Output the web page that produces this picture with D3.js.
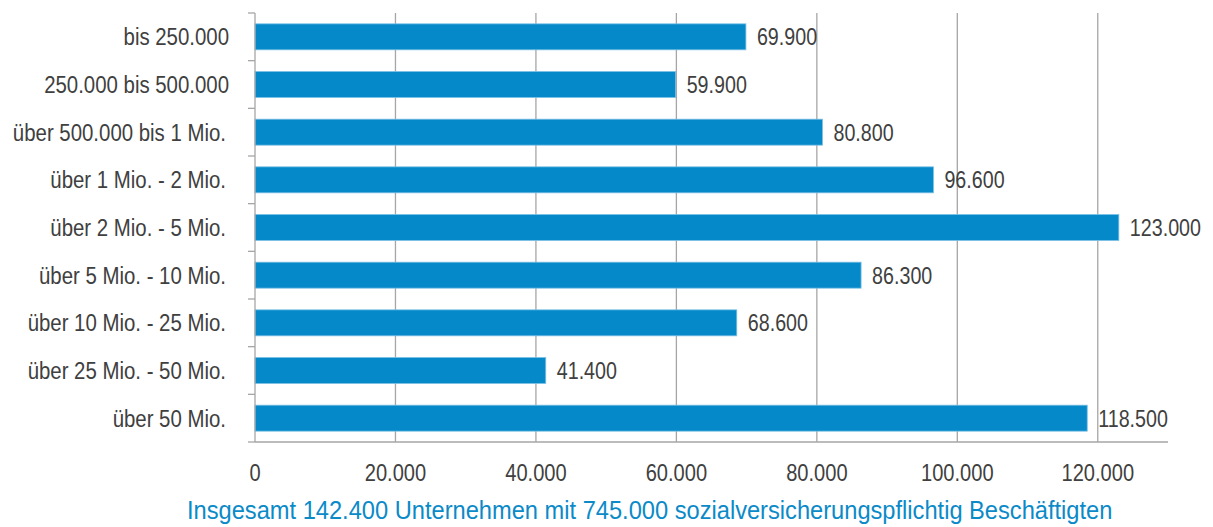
<!DOCTYPE html>
<html lang="de">
<head>
<meta charset="utf-8">
<title>Unternehmen nach Umsatzgrößenklassen</title>
<script src="https://d3js.org/d3.v7.min.js"></script>
<style>
  body { margin: 0; background: #fff; }
  text { font-family: "Liberation Sans", Arial, sans-serif; }
</style>
</head>
<body>
<script>
// data
var categories = ["bis 250.000", "250.000 bis 500.000", "über 500.000 bis 1 Mio.",
                  "über 1 Mio. - 2 Mio.", "über 2 Mio. - 5 Mio.", "über 5 Mio. - 10 Mio.",
                  "über 10 Mio. - 25 Mio.", "über 25 Mio. - 50 Mio.", "über 50 Mio."];
var values = [69900, 59900, 80800, 96600, 123000, 86300, 68600, 41400, 118500];
var xTicks = [0, 20000, 40000, 60000, 80000, 100000, 120000];
var caption = "Insgesamt 142.400 Unternehmen mit 745.000 sozialversicherungspflichtig Beschäftigten";

var W = 1213, H = 527;
var blue = "#0689c9", textCol = "#404040", gridCol = "#a6a6a6";

var svg = d3.select("body").append("svg")
    .attr("width", W)
    .attr("height", H);

var x = d3.scaleLinear().domain([0, 130000]).range([255, 1168]);
var y = d3.scaleBand().domain(categories).range([13, 442])
    .paddingInner(0.455).paddingOuter(0.2275);

// german number format 123.000
var de = d3.formatLocale({decimal: ",", thousands: ".", grouping: [3], currency: ["", " €"]});
var fmt = de.format(",.0f");

// no Arial Narrow here, so squeeze Liberation Sans
function squeeze(px, py, k) {
  return "translate(" + px + "," + py + ") scale(" + k + ",1)";
}

// vertical gridlines
svg.append("g").selectAll("line")
    .data(xTicks.slice(1))
    .enter().append("line")
    .attr("x1", function(d) { return x(d); })
    .attr("x2", function(d) { return x(d); })
    .attr("y1", 13).attr("y2", 442)
    .attr("stroke", gridCol).attr("stroke-width", 1.3);

// bars
svg.append("g").selectAll("rect")
    .data(values)
    .enter().append("rect")
    .attr("x", x(0))
    .attr("y", function(d, i) { return y(categories[i]); })
    .attr("width", function(d) { return x(d) - x(0); })
    .attr("height", y.bandwidth())
    .attr("fill", blue)
    .attr("stroke", "#7cc0e4")
    .attr("stroke-width", 0.8);

// value labels
svg.append("g").selectAll("text")
    .data(values)
    .enter().append("text")
    .attr("transform", function(d, i) {
      return squeeze(x(d) + 11, y(categories[i]) + y.bandwidth() / 2, 0.82);
    })
    .attr("dy", "0.36em")
    .attr("font-size", 24)
    .attr("fill", textCol)
    .text(function(d) { return fmt(d); });

// left axis with ticks at band boundaries
var yAxis = svg.append("g");
yAxis.append("line")
    .attr("x1", x(0)).attr("x2", x(0))
    .attr("y1", 13).attr("y2", 442)
    .attr("stroke", gridCol).attr("stroke-width", 1.3);
var bounds = d3.range(categories.length + 1).map(function(i) { return 13 + i * y.step(); });
yAxis.selectAll(".tk")
    .data(bounds)
    .enter().append("line")
    .attr("class", "tk")
    .attr("x1", x(0) - 7).attr("x2", x(0))
    .attr("y1", function(d) { return d; })
    .attr("y2", function(d) { return d; })
    .attr("stroke", gridCol).attr("stroke-width", 1.3);
yAxis.selectAll("text")
    .data(categories)
    .enter().append("text")
    .attr("transform", function(d, i) {
      return squeeze(i < 2 ? 229 : 226, y(d) + y.bandwidth() / 2, 0.85);
    })
    .attr("dy", "0.36em")
    .attr("text-anchor", "end")
    .attr("font-size", 24)
    .attr("fill", textCol)
    .text(function(d) { return d; });

// bottom axis
var xAxis = svg.append("g");
xAxis.append("line")
    .attr("x1", x(0)).attr("x2", 1168)
    .attr("y1", 442).attr("y2", 442)
    .attr("stroke", gridCol).attr("stroke-width", 1.3);
xAxis.selectAll("text")
    .data(xTicks)
    .enter().append("text")
    .attr("transform", function(d) { return squeeze(x(d), 472, 0.82); })
    .attr("dy", "0.36em")
    .attr("text-anchor", "middle")
    .attr("font-size", 24.5)
    .attr("fill", textCol)
    .text(function(d) { return fmt(d); });

// caption
svg.append("text")
    .attr("transform", "translate(187,519) scale(0.91,1)")
    .attr("font-size", 26)
    .attr("fill", "#0b8ac8")
    .text(caption);
</script>
</body>
</html>
